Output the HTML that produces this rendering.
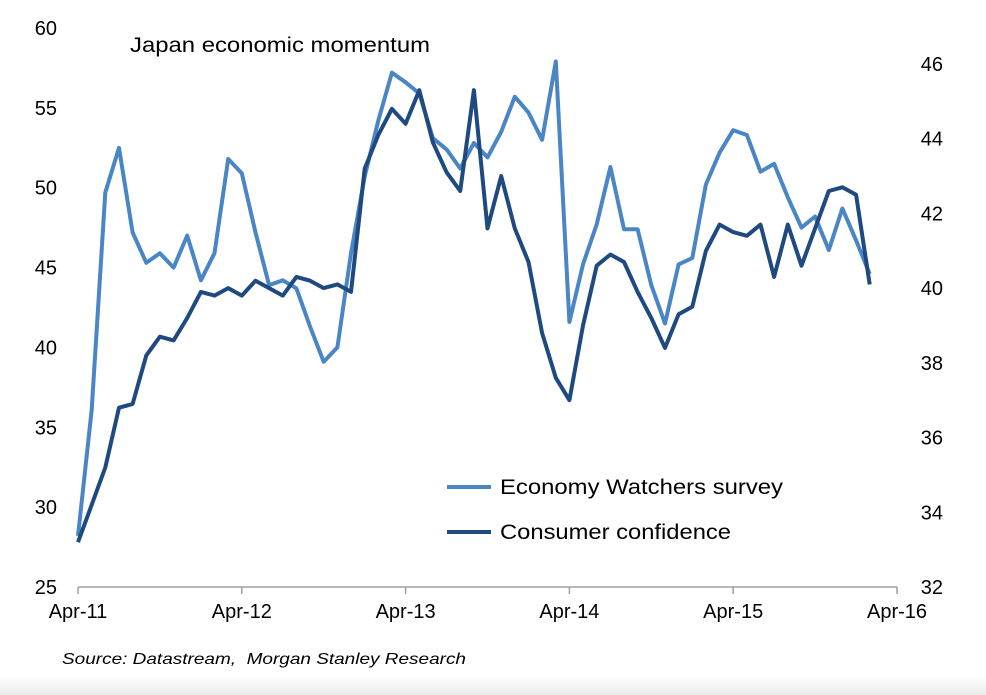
<!DOCTYPE html>
<html><head><meta charset="utf-8">
<style>
html,body{margin:0;padding:0;background:#fff;}
body{width:986px;height:695px;overflow:hidden;position:relative;font-family:"Liberation Sans",Arial,sans-serif;}
#foot{position:absolute;left:0;top:676px;width:986px;height:19px;background:linear-gradient(#fff,#ececec);}
</style></head>
<body>
<div id="foot"></div>
<svg id="chart" width="986" height="695" style="position:absolute;left:0;top:0"></svg>
<script>
const leftTicks=[25,30,35,40,45,50,55,60];
const rightTicks=[32,34,36,38,40,42,44,46];
const xTickLabels=["Apr-11","Apr-12","Apr-13","Apr-14","Apr-15","Apr-16"];
const economyWatchers=[28.2,36.1,49.7,52.5,47.2,45.3,45.9,45.0,47.0,44.2,45.9,51.8,50.9,47.2,43.9,44.2,43.7,41.3,39.1,40.0,45.9,50.7,54.2,57.2,56.6,55.9,53.1,52.4,51.2,52.8,51.9,53.5,55.7,54.7,53.0,57.9,41.6,45.2,47.7,51.3,47.4,47.4,43.9,41.5,45.2,45.6,50.2,52.2,53.6,53.3,51.0,51.5,49.4,47.5,48.2,46.1,48.7,46.7,44.6];
const consumerConfidence=[33.2,34.2,35.2,36.8,36.9,38.2,38.7,38.6,39.2,39.9,39.8,40.0,39.8,40.2,40.0,39.8,40.3,40.2,40.0,40.1,39.9,43.2,44.1,44.8,44.4,45.3,43.9,43.1,42.6,45.3,41.6,43.0,41.6,40.7,38.8,37.6,37.0,39.0,40.6,40.9,40.7,39.9,39.2,38.4,39.3,39.5,41.0,41.7,41.5,41.4,41.7,40.3,41.7,40.6,41.6,42.6,42.7,42.5,40.1];

const NS="http://www.w3.org/2000/svg";
const svg=document.getElementById('chart');
const X0=78,MONTH=13.65,YB=587;
const xScale=i=>X0+i*MONTH;
const yL=v=>YB-(v-25)*(559/35);
const yR=v=>YB-(v-32)*(523/14);
function mk(tag,attrs){const e=document.createElementNS(NS,tag);for(const k in attrs)e.setAttribute(k,attrs[k]);svg.appendChild(e);return e;}

const ax=mk('line',{x1:X0,y1:YB,x2:897,y2:YB,stroke:'#a0a0a0','stroke-width':1.5});


xTickLabels.forEach((t,k)=>{
  const x=xScale(k*12);
  const tk=mk('line',{x1:x,y1:YB,x2:x,y2:YB+7,stroke:'#a0a0a0','stroke-width':1.5});
  
  
  const tx=mk('text',{x:x,y:618,'text-anchor':'middle','font-size':20,fill:'#000'});
  tx.textContent=t;
  
  
});
leftTicks.forEach(v=>{
  const tx=mk('text',{x:57,y:yL(v)+7,'text-anchor':'end','font-size':20,fill:'#000'});
  tx.textContent=v;
  
  
});
rightTicks.forEach(v=>{
  const tx=mk('text',{x:943,y:yR(v)+7,'text-anchor':'end','font-size':20,fill:'#000'});
  tx.textContent=v;
  
  
});
function line(data,yf,color,name){
  const d=data.map((v,i)=>(i?'L':'M')+xScale(i).toFixed(1)+','+yf(v).toFixed(1)).join(' ');
  const p=mk('path',{d:d,fill:'none',stroke:color,'stroke-width':4,'stroke-linejoin':'round','stroke-linecap':'butt'});
  
  
}
line(economyWatchers,yL,'#4a86c6','economy-watchers-line');
line(consumerConfidence,yR,'#1f4a80','consumer-confidence-line');

const title=mk('text',{x:130,y:52,'font-size':21,fill:'#000',textLength:300,lengthAdjust:'spacingAndGlyphs'});
title.textContent='Japan economic momentum';



[['Economy Watchers survey','#4a86c6',487,283],['Consumer confidence','#1f4a80',532,231]].forEach(([t,c,y,w])=>{
  const l=mk('line',{x1:447,y1:y,x2:491,y2:y,stroke:c,'stroke-width':4});
  
  
  const tx=mk('text',{x:500,y:y+7,'font-size':21,fill:'#000',textLength:w,lengthAdjust:'spacingAndGlyphs'});
  tx.textContent=t;
  
  
});
const src=mk('text',{x:62,y:664,'font-size':16,'font-style':'italic',fill:'#000',textLength:404,lengthAdjust:'spacingAndGlyphs'});
src.textContent='Source: Datastream,\u00a0\u00a0Morgan Stanley Research';


</script>
</body></html>
